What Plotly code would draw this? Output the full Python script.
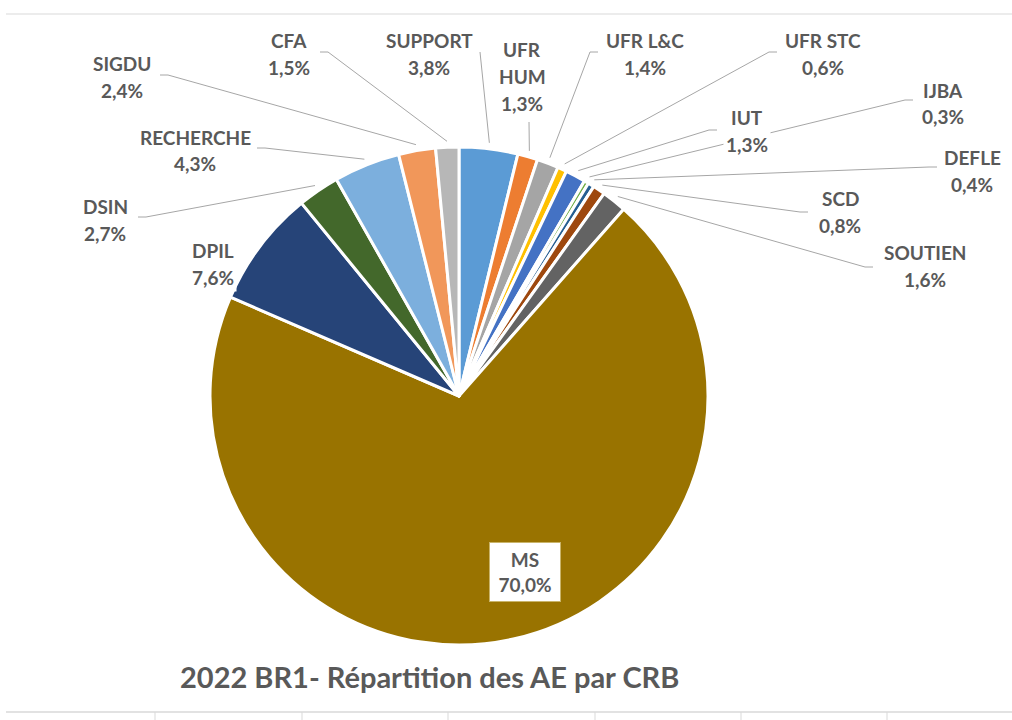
import math
import plotly.graph_objects as go

# ---------------- data ----------------
labels = ["SUPPORT", "UFR HUM", "UFR L&C", "UFR STC", "IUT", "IJBA", "DEFLE",
          "SCD", "SOUTIEN", "MS", "DPIL", "DSIN", "RECHERCHE", "SIGDU", "CFA"]
shares = [3.8, 1.3, 1.4, 0.6, 1.3, 0.3, 0.4, 0.8, 1.6, 70.0, 7.6, 2.7, 4.3, 2.4, 1.5]
title_text = "2022 BR1- Répartition des AE par CRB"

# ---------------- styles / layout ----------------
colors = ["#5B9BD5", "#ED7D31", "#A5A5A5", "#FFC000", "#4472C4", "#70AD47", "#255E91",
          "#9E480E", "#636363", "#997300", "#264478", "#43682B", "#7CAFDD", "#F1975A", "#B7B7B7"]
W, H = 1012, 720
CX, CY, R = 459, 396, 249
TXT = "#595959"
FONT = "Lato"
FS = 19
LINE_STEP = 27

# label name split over lines
name_lines = {"UFR HUM": ["UFR", "HUM"]}
# first text line centre (px) for each label
label_pos = {
    "SUPPORT": (429, 40), "UFR HUM": (522, 50), "UFR L&C": (645, 40),
    "UFR STC": (823, 40), "IUT": (747, 118), "IJBA": (943, 90),
    "DEFLE": (972, 157), "SCD": (840, 198), "SOUTIEN": (925, 253),
    "DPIL": (213, 250), "DSIN": (105, 207), "RECHERCHE": (195, 137),
    "SIGDU": (122, 63), "CFA": (289, 40),
}
# leader line start (px) and horizontal stub length
leader_start = {
    "SUPPORT": (480, 52, 0), "UFR HUM": (529, 122, 0), "UFR L&C": (598, 52, -8),
    "UFR STC": (777, 52, -8), "IUT": (717, 130, -8), "IJBA": (913, 100, -8),
    "DEFLE": (937, 167, -8), "SCD": (808, 212, -8), "SOUTIEN": (873, 267, -8),
    "DSIN": (138, 217, 8), "RECHERCHE": (257, 148, 8), "SIGDU": (160, 75, 8),
    "CFA": (320, 52, 8),
}
inside_label = {"MS": (525, 572)}


def px(x):
    return x / W


def py(y):
    return 1 - y / H


def pct(v):
    return f"{v:.1f}".replace(".", ",") + "%"


fig = go.Figure(go.Pie(
    labels=labels, values=shares, sort=False, direction="clockwise", rotation=0,
    marker=dict(colors=colors, line=dict(color="white", width=3)),
    textinfo="none", hoverinfo="label+percent", showlegend=False,
    domain=dict(x=[px(CX - R), px(CX + R)], y=[py(CY + R), py(CY - R)]),
))

shapes = []
annotations = []

total = sum(shares)
cum = 0.0
for name, v in zip(labels, shares):
    a = 2 * math.pi * (cum + v / 2) / total
    cum += v
    if name in leader_start:
        sx, sy, stub = leader_start[name]
        ex = CX + (R + 6) * math.sin(a)
        ey = CY - (R + 6) * math.cos(a)
        path = f"M {px(sx)},{py(sy)} L {px(sx + stub)},{py(sy)} L {px(ex)},{py(ey)}"
        shapes.append(dict(type="path", xref="paper", yref="paper", path=path,
                           line=dict(color="#A6A6A6", width=1), layer="above"))
    if name in label_pos:
        x0, y0 = label_pos[name]
        lines = name_lines.get(name, [name]) + [pct(v)]
        for i, t in enumerate(lines):
            annotations.append(dict(
                x=px(x0), y=py(y0 + i * LINE_STEP), xref="paper", yref="paper",
                text=t, showarrow=False, xanchor="center", yanchor="middle",
                bgcolor="white", borderpad=2,
                font=dict(family=FONT, size=FS, color=TXT, weight="bold")))
    if name in inside_label:
        x0, y0 = inside_label[name]
        annotations.append(dict(
            x=px(x0), y=py(y0), xref="paper", yref="paper",
            text=f"{name}<br>{pct(v)}", showarrow=False, xanchor="center", yanchor="middle",
            bgcolor="white", bordercolor="#C9B46A", borderwidth=1, width=68, height=56,
            font=dict(family=FONT, size=FS, color=TXT, weight="bold")))

# title
annotations.append(dict(
    x=px(429), y=py(676), xref="paper", yref="paper", text=title_text,
    showarrow=False, xanchor="center", yanchor="middle",
    font=dict(family=FONT, size=29, color=TXT, weight="bold")))

# frame artefacts (grid line on top, axis with ticks at the bottom)
shapes.append(dict(type="line", xref="paper", yref="paper", x0=px(6), x1=1,
                   y0=py(14), y1=py(14), line=dict(color="#D9D9D9", width=1)))
shapes.append(dict(type="line", xref="paper", yref="paper", x0=px(6), x1=1,
                   y0=py(712), y1=py(712), line=dict(color="#D9D9D9", width=1.5)))
for tx in [155, 302, 448, 595, 741, 887]:
    shapes.append(dict(type="line", xref="paper", yref="paper", x0=px(tx), x1=px(tx),
                       y0=py(712), y1=py(720), line=dict(color="#D9D9D9", width=1)))

fig.update_layout(
    width=W, height=H, margin=dict(l=0, r=0, t=0, b=0),
    paper_bgcolor="white", plot_bgcolor="white",
    shapes=shapes, annotations=annotations,
)

fig.write_html("out.html")
